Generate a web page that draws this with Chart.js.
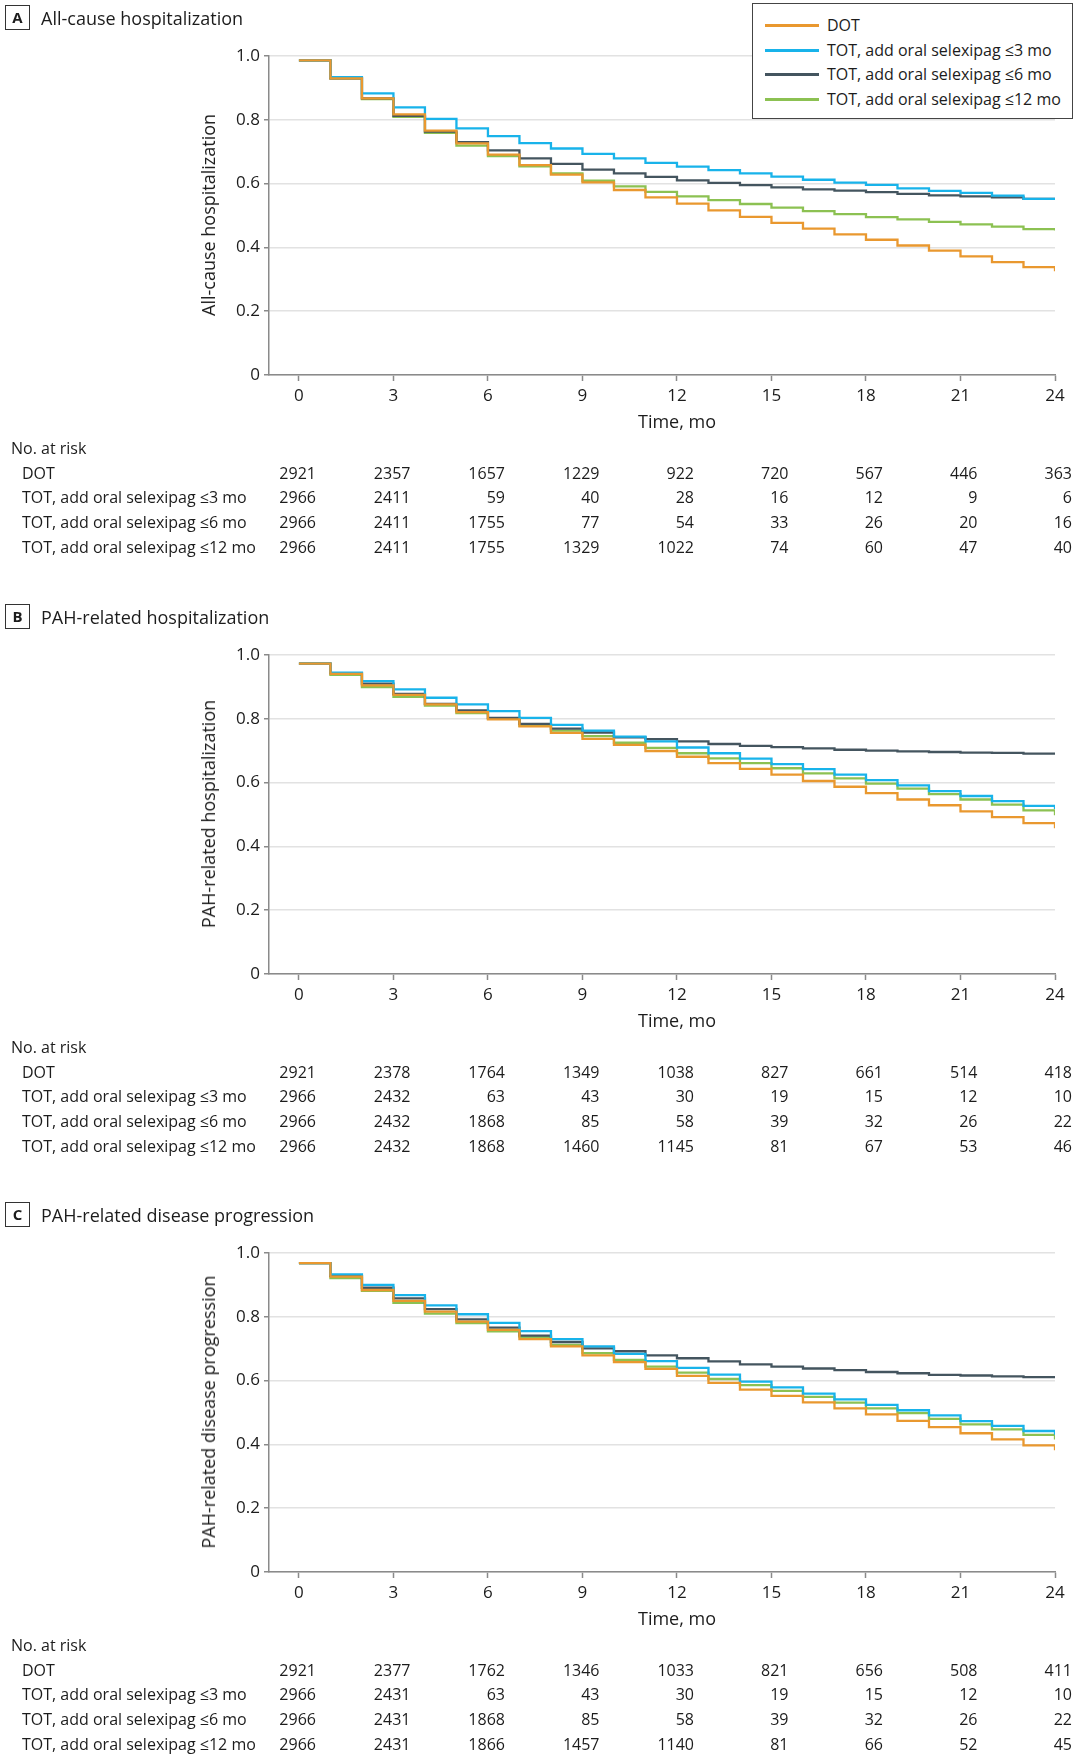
<!DOCTYPE html>
<html>
<head>
<meta charset="utf-8">
<title>Hospitalization and disease progression</title>
<script src="https://cdn.jsdelivr.net/npm/chart.js"></script>
<style>
  body { margin: 0; background: #fff; font-family: 'Open Sans', sans-serif; color: #1c1c1c; }
  #page { position: relative; width: 1080px; height: 1757px; overflow: hidden; }
  .panel { position: absolute; left: 0; width: 1080px; height: 598px; }
  .panel canvas { position: absolute; left: 0; top: 0; }
  .txt { position: absolute; white-space: nowrap; line-height: 20px; height: 20px; }
  .letter { position: absolute; left: 5px; top: 5px; width: 23px; height: 23px; border: 1.5px solid #333;
            font-weight: bold; font-size: 15px; line-height: 23px; text-align: center; }
  .legend { position: absolute; left: 752px; top: 3px; width: 319px; height: 114px; border: 1.5px solid #444; background: #fff; }
  .legend .sw { position: absolute; left: 12px; width: 54px; height: 2.5px; }
  .legend .lab { position: absolute; left: 74px; font-size: 16px; line-height: 20px; white-space: nowrap; }
</style>
</head>
<body>
<div id="page"></div>
<script>
"use strict";

// x positions of the monthly KM steps (value holds from month i to i+1, last = end of curve)
const stepMonths = [0,1,2,3,4,5,6,7,8,9,10,11,12,13,14,15,16,17,18,19,20,21,22,23,24];
const xTicks = [0,3,6,9,12,15,18,21,24];
const yTicks = [0,0.2,0.4,0.6,0.8,1.0];

const seriesNames = ["DOT", "TOT, add oral selexipag ≤3 mo", "TOT, add oral selexipag ≤6 mo", "TOT, add oral selexipag ≤12 mo"];
const seriesColors = ["#E9982F", "#18B3EA", "#44555F", "#8CC152"];

const panelLetters = ["A", "B", "C"];
const panelTitles = ["All-cause hospitalization", "PAH-related hospitalization", "PAH-related disease progression"];

// A. All-cause hospitalization
const allCauseDOT   = [0.986,0.930,0.867,0.817,0.766,0.726,0.691,0.658,0.628,0.604,0.580,0.557,0.537,0.516,0.496,0.477,0.459,0.441,0.424,0.406,0.390,0.372,0.354,0.338,0.325];
const allCauseTOT3  = [0.986,0.934,0.883,0.839,0.803,0.773,0.749,0.727,0.710,0.693,0.679,0.665,0.653,0.642,0.632,0.622,0.612,0.603,0.596,0.585,0.577,0.571,0.562,0.552,0.550];
const allCauseTOT6  = [0.986,0.930,0.867,0.812,0.763,0.730,0.704,0.679,0.662,0.644,0.632,0.621,0.610,0.602,0.595,0.588,0.582,0.578,0.573,0.568,0.563,0.560,0.557,0.552,0.550];
const allCauseTOT12 = [0.986,0.930,0.865,0.809,0.759,0.719,0.686,0.654,0.632,0.609,0.591,0.574,0.560,0.548,0.536,0.525,0.514,0.504,0.495,0.488,0.480,0.472,0.465,0.457,0.453];

// B. PAH-related hospitalization
const pahHospDOT   = [0.973,0.941,0.905,0.875,0.845,0.821,0.798,0.776,0.756,0.737,0.718,0.699,0.681,0.661,0.643,0.625,0.605,0.587,0.567,0.547,0.529,0.510,0.492,0.473,0.457];
const pahHospTOT3  = [0.973,0.945,0.918,0.892,0.866,0.845,0.824,0.803,0.781,0.763,0.744,0.729,0.710,0.692,0.675,0.658,0.642,0.625,0.608,0.591,0.573,0.558,0.542,0.527,0.517];
const pahHospTOT6  = [0.973,0.943,0.910,0.878,0.847,0.826,0.803,0.784,0.769,0.757,0.742,0.736,0.729,0.721,0.715,0.711,0.707,0.703,0.700,0.698,0.696,0.694,0.693,0.691,0.690];
const pahHospTOT12 = [0.973,0.938,0.899,0.869,0.841,0.818,0.801,0.779,0.763,0.746,0.725,0.709,0.692,0.676,0.661,0.645,0.629,0.613,0.597,0.581,0.564,0.547,0.531,0.513,0.498];

// C. PAH-related disease progression
const pahProgDOT   = [0.968,0.926,0.884,0.850,0.816,0.785,0.759,0.730,0.707,0.679,0.658,0.637,0.615,0.593,0.572,0.552,0.532,0.513,0.494,0.474,0.454,0.435,0.416,0.397,0.382];
const pahProgTOT3  = [0.968,0.933,0.900,0.868,0.836,0.808,0.781,0.755,0.730,0.707,0.684,0.661,0.640,0.619,0.597,0.579,0.559,0.541,0.524,0.507,0.491,0.473,0.458,0.442,0.430];
const pahProgTOT6  = [0.968,0.928,0.891,0.858,0.824,0.792,0.766,0.741,0.721,0.701,0.692,0.679,0.670,0.660,0.651,0.644,0.638,0.633,0.627,0.623,0.618,0.616,0.613,0.611,0.610];
const pahProgTOT12 = [0.968,0.921,0.881,0.844,0.810,0.780,0.754,0.736,0.712,0.686,0.665,0.644,0.625,0.605,0.586,0.568,0.549,0.531,0.513,0.498,0.480,0.463,0.447,0.430,0.415];

// No. at risk at 0, 3, ... 24 mo
const riskA_DOT   = [2921,2357,1657,1229,922,720,567,446,363];
const riskA_TOT3  = [2966,2411,59,40,28,16,12,9,6];
const riskA_TOT6  = [2966,2411,1755,77,54,33,26,20,16];
const riskA_TOT12 = [2966,2411,1755,1329,1022,74,60,47,40];

const riskB_DOT   = [2921,2378,1764,1349,1038,827,661,514,418];
const riskB_TOT3  = [2966,2432,63,43,30,19,15,12,10];
const riskB_TOT6  = [2966,2432,1868,85,58,39,32,26,22];
const riskB_TOT12 = [2966,2432,1868,1460,1145,81,67,53,46];

const riskC_DOT   = [2921,2377,1762,1346,1033,821,656,508,411];
const riskC_TOT3  = [2966,2431,63,43,30,19,15,12,10];
const riskC_TOT6  = [2966,2431,1868,85,58,39,32,26,22];
const riskC_TOT12 = [2966,2431,1866,1457,1140,81,66,52,45];

const panelSeries = [
  [allCauseDOT, allCauseTOT3, allCauseTOT6, allCauseTOT12],
  [pahHospDOT, pahHospTOT3, pahHospTOT6, pahHospTOT12],
  [pahProgDOT, pahProgTOT3, pahProgTOT6, pahProgTOT12]
];
const panelRisk = [
  [riskA_DOT, riskA_TOT3, riskA_TOT6, riskA_TOT12],
  [riskB_DOT, riskB_TOT3, riskB_TOT6, riskB_TOT12],
  [riskC_DOT, riskC_TOT3, riskC_TOT6, riskC_TOT12]
];

const panelTops = [0, 599, 1197];
const axisGray = "#8a8a8a";
const page = document.getElementById("page");

function addText(parent, str, css) {
  let d = document.createElement("div");
  d.className = "txt";
  d.textContent = str;
  Object.assign(d.style, css);
  parent.appendChild(d);
  return d;
}

function makePanel(p) {
  let panel = document.createElement("div");
  panel.className = "panel";
  panel.style.top = panelTops[p] + "px";
  page.appendChild(panel);

  let canvas = document.createElement("canvas");
  canvas.width = 1080;
  canvas.height = 598;
  panel.appendChild(canvas);

  let datasets = [];
  for (let s = 0; s < seriesNames.length; s++) {
    datasets.push({
      label: seriesNames[s],
      data: stepMonths.map((m, i) => ({ x: m, y: panelSeries[p][s][i] })),
      borderColor: seriesColors[s],
      backgroundColor: seriesColors[s],
      borderWidth: 2.3,
      pointRadius: 0,
      stepped: "before",   // horizontal first, then the drop
      fill: false
    });
  }

  let chart = new Chart(canvas, {
    type: "line",
    data: { datasets: datasets },
    options: {
      responsive: false,
      animation: false,
      layout: { padding: { left: 0, right: 25, top: 56, bottom: 183 } },
      plugins: { legend: { display: false }, tooltip: { enabled: false } },
      scales: {
        x: {
          type: "linear",
          min: -0.95,
          max: 24,
          afterBuildTicks: s => { s.ticks = xTicks.map(v => ({ value: v })); },
          afterFit: s => { s.height = 40; },
          grid: { drawOnChartArea: false, drawTicks: true, tickLength: 6, tickColor: axisGray, tickWidth: 1.5 },
          border: { color: axisGray, width: 1.5 },
          ticks: { color: "#1c1c1c", font: { family: "Open Sans", size: 17 }, padding: 5, maxRotation: 0 }
        },
        y: {
          min: 0,
          max: 1,
          afterBuildTicks: s => { s.ticks = yTicks.map(v => ({ value: v })); },
          afterFit: s => { s.width = 269; },
          grid: { color: "#e2e2e2", lineWidth: 1.5, tickLength: 5, tickColor: axisGray, tickWidth: 1.5 },
          border: { color: axisGray, width: 1.5 },
          ticks: {
            color: "#1c1c1c",
            font: { family: "Open Sans", size: 17 },
            padding: 4,
            callback: v => (v === 0 ? "0" : v.toFixed(1))
          }
        }
      }
    }
  });

  // panel heading
  let box = document.createElement("div");
  box.className = "letter";
  box.textContent = panelLetters[p];
  panel.appendChild(box);
  addText(panel, panelTitles[p], { left: "41px", top: "8px", fontSize: "18px" });

  // axis titles
  let yt = addText(panel, panelTitles[p], { left: "208px", top: "215px", fontSize: "18px", transformOrigin: "0 0" });
  yt.style.transform = "rotate(-90deg) translate(-50%, -50%)";
  let xt = addText(panel, "Time, mo", { left: "677px", top: "411px", fontSize: "18px" });
  xt.style.transform = "translateX(-50%)";

  // number at risk table
  addText(panel, "No. at risk", { left: "11px", top: "438px", fontSize: "16px" });
  let rowY = [463, 487, 512, 537];
  for (let s = 0; s < seriesNames.length; s++) {
    addText(panel, seriesNames[s], { left: "22px", top: rowY[s] + "px", fontSize: "16px" });
    for (let t = 0; t < xTicks.length; t++) {
      let px = chart.scales.x.getPixelForValue(xTicks[t]);
      addText(panel, String(panelRisk[p][s][t]), {
        right: (1080 - px - 17) + "px", top: rowY[s] + "px", fontSize: "16px", textAlign: "right"
      });
    }
  }

  // legend only on panel A
  if (p === 0) {
    let lg = document.createElement("div");
    lg.className = "legend";
    let ly = [21, 46, 70, 95];
    for (let s = 0; s < seriesNames.length; s++) {
      let sw = document.createElement("div");
      sw.className = "sw";
      sw.style.top = (ly[s] - 1) + "px";
      sw.style.background = seriesColors[s];
      lg.appendChild(sw);
      let lab = document.createElement("div");
      lab.className = "lab";
      lab.style.top = (ly[s] - 10) + "px";
      lab.textContent = seriesNames[s];
      lg.appendChild(lab);
    }
    panel.appendChild(lg);
  }
}

for (let p = 0; p < 3; p++) makePanel(p);
</script>
</body>
</html>
